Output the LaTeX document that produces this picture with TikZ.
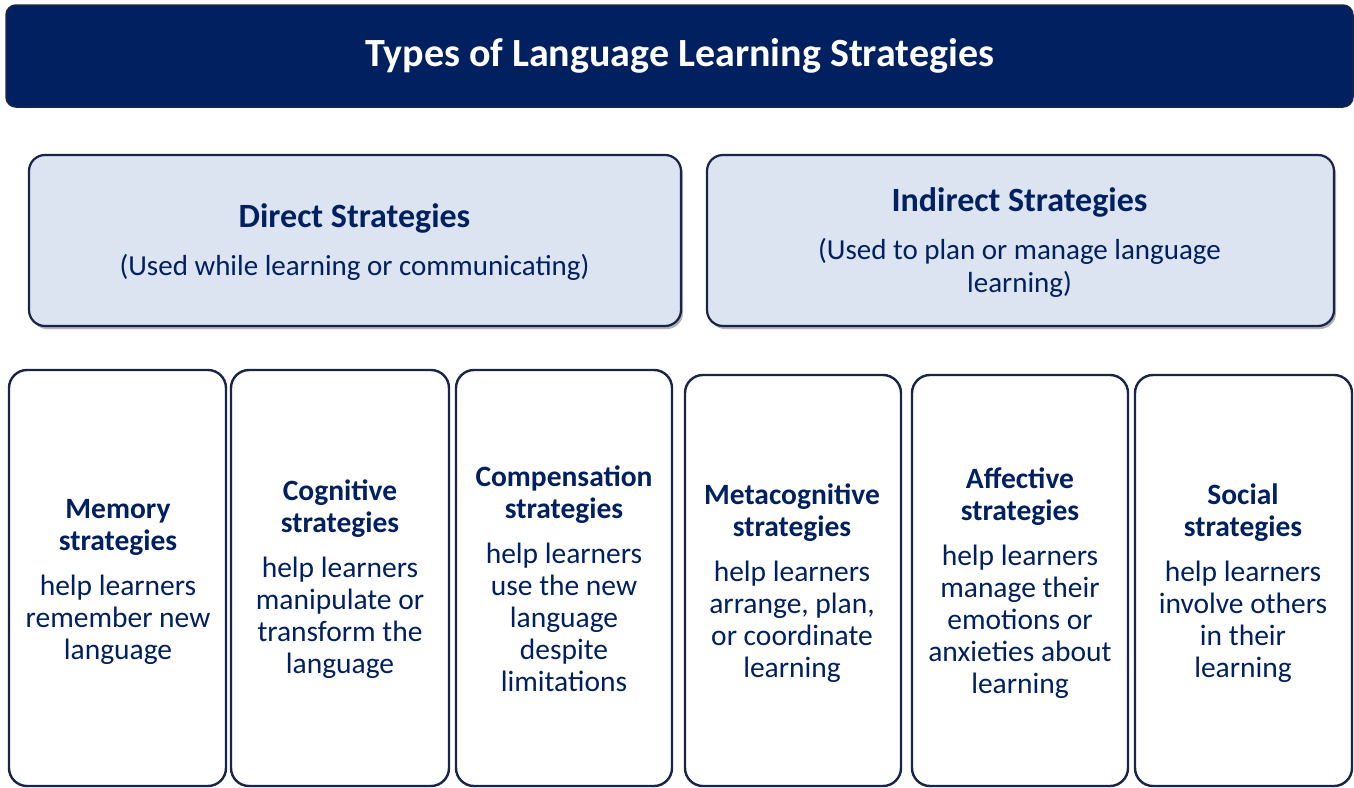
\documentclass[tikz,border=0pt]{standalone}
\usepackage{fontspec}
\setmainfont{Carlito}
\usetikzlibrary{positioning,shadows}
\definecolor{navy}{RGB}{0,32,96}
\definecolor{boxline}{RGB}{24,36,72}
\definecolor{paleblue}{RGB}{219,228,240}
\begin{document}
\begin{tikzpicture}[x=1pt, y=-1pt, line join=round, inner sep=0pt, outer sep=0pt,
	titlebar/.style={fill=navy, draw=boxline, line width=1.5pt, rounded corners=10pt, text=white, font=\fontsize{40}{46}\selectfont\bfseries},
	groupbox/.style={fill=paleblue, draw=boxline, line width=2.2pt, rounded corners=16pt, drop shadow={shadow xshift=2pt, shadow yshift=-3pt, opacity=.3, fill=black}},
	stratbox/.style={fill=white, draw=boxline, line width=2.4pt, rounded corners=18pt},
	headtext/.style={text=navy, anchor=base, font=\fontsize{34}{40}\selectfont\bfseries},
	subtext/.style={text=navy, align=center, font=\fontsize{29}{33}\selectfont},
	strattext/.style={text=navy, align=center, anchor=north, font=\fontsize{29.5}{32}\selectfont}]
	\useasboundingbox (0,0) rectangle (1354,787);
	\node[titlebar, minimum width=1347pt, minimum height=102pt] (title) at (679.5,56) {Types of Language Learning Strategies};
	\node[groupbox, minimum width=652pt, minimum height=171pt] (direct) at (355,240.5) {};
	\node[groupbox, minimum width=627pt, minimum height=171pt] (indirect) at (1020.5,240.5) {};
	\node[headtext] (direct head) at (354.5,227) {Direct Strategies};
	\node[subtext, anchor=base] (direct sub) at (354.5,275) {(Used while learning or communicating)};
	\node[headtext] (indirect head) at (1019.5,211) {Indirect Strategies};
	\node[subtext, anchor=north] (indirect sub) at (1019.5,235.9) {\strut(Used to plan or manage language\\learning)\strut};
	\node[stratbox, minimum width=217pt, minimum height=416pt] (memory) at (117.5,578) {};
	\node[stratbox, minimum width=218pt, minimum height=416pt] (cognitive) at (340,578) {};
	\node[stratbox, minimum width=216pt, minimum height=416pt] (compensation) at (564,578) {};
	\node[stratbox, minimum width=216pt, minimum height=411pt] (metacognitive) at (793,580.5) {};
	\node[stratbox, minimum width=216pt, minimum height=411pt] (affective) at (1020,580.5) {};
	\node[stratbox, minimum width=217pt, minimum height=411pt] (social) at (1243.5,580.5) {};
	\node[strattext] (memory text) at (118,495.6) {\textbf{\strut Memory}\\\textbf{strategies}\\[13pt]help learners\\remember new\\language\strut};
	\node[strattext] (cognitive text) at (340,477.6) {\textbf{\strut Cognitive}\\\textbf{strategies}\\[13pt]help learners\\manipulate or\\transform the\\language\strut};
	\node[strattext] (compensation text) at (564,463.6) {\textbf{\strut Compensation}\\\textbf{strategies}\\[13pt]help learners\\use the new\\language\\despite\\limitations\strut};
	\node[strattext] (metacognitive text) at (792,481.6) {\textbf{\strut Metacognitive}\\\textbf{strategies}\\[13pt]help learners\\arrange, plan,\\or coordinate\\learning\strut};
	\node[strattext] (affective text) at (1020,465.6) {\textbf{\strut Affective}\\\textbf{strategies}\\[13pt]help learners\\manage their\\emotions or\\anxieties about\\learning\strut};
	\node[strattext] (social text) at (1243,481.6) {\textbf{\strut Social}\\\textbf{strategies}\\[13pt]help learners\\involve others\\in their\\learning\strut};
\end{tikzpicture}
\end{document}
